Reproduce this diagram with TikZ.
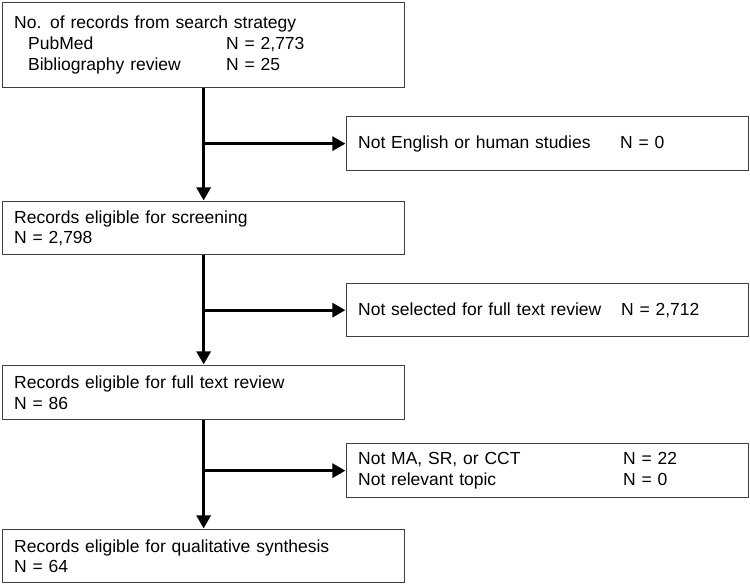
\documentclass[tikz,border=0pt]{standalone}
\usepackage{fontspec}
\setmainfont{Liberation Sans}
\usetikzlibrary{arrows.meta}
\begin{document}
\begin{tikzpicture}[x=1pt,y=1pt,
  box/.style={draw=black!75, line width=1.3pt, rectangle, anchor=north west, align=left,
    inner xsep=11.5pt, inner ysep=0pt, font=\fontsize{17.5pt}{20.5pt}\selectfont},
  arr/.style={line width=3pt, -{Triangle[length=13pt,width=14pt]}, shorten >=0.6pt}
]
\useasboundingbox (0,0) rectangle (750,-584);
\node[box, text width=379pt, minimum height=85pt, font=\fontsize{17.5pt}{21pt}\selectfont] (b1) at (2,-2)
  {No. of records from search strategy\\
   \hspace*{14pt}\makebox[198pt][l]{PubMed}N = 2,773\\
   \hspace*{14pt}\makebox[198pt][l]{Bibliography review}N = 25};
\node[box, text width=379pt, minimum height=54pt] (r1) at (346,-116)
  {\makebox[262pt][l]{Not English or human studies}N = 0};
\node[box, text width=379pt, minimum height=53pt] (b2) at (2,-201)
  {Records eligible for screening\\N = 2,798};
\node[box, text width=379pt, minimum height=53pt] (r2) at (346,-283)
  {\makebox[263pt][l]{Not selected for full text review}N = 2,712};
\node[box, text width=379pt, minimum height=54pt] (b3) at (2,-365)
  {Records eligible for full text review\\N = 86};
\node[box, text width=379pt, minimum height=54pt] (r3) at (346,-443)
  {\makebox[265pt][l]{Not MA, SR, or CCT}N = 22\\
   \makebox[265pt][l]{Not relevant topic}N = 0};
\node[box, text width=379pt, minimum height=53pt] (b4) at (2,-529)
  {Records eligible for qualitative synthesis\\N = 64};
\draw[arr] (b1.south) -- (b2.north);
\draw[arr] (b1.south |- r1.west) -- (r1.west);
\draw[arr] (b2.south) -- (b3.north);
\draw[arr] (b2.south |- r2.west) -- (r2.west);
\draw[arr] (b3.south) -- (b4.north);
\draw[arr] (b3.south |- r3.west) -- (r3.west);
\end{tikzpicture}
\end{document}
